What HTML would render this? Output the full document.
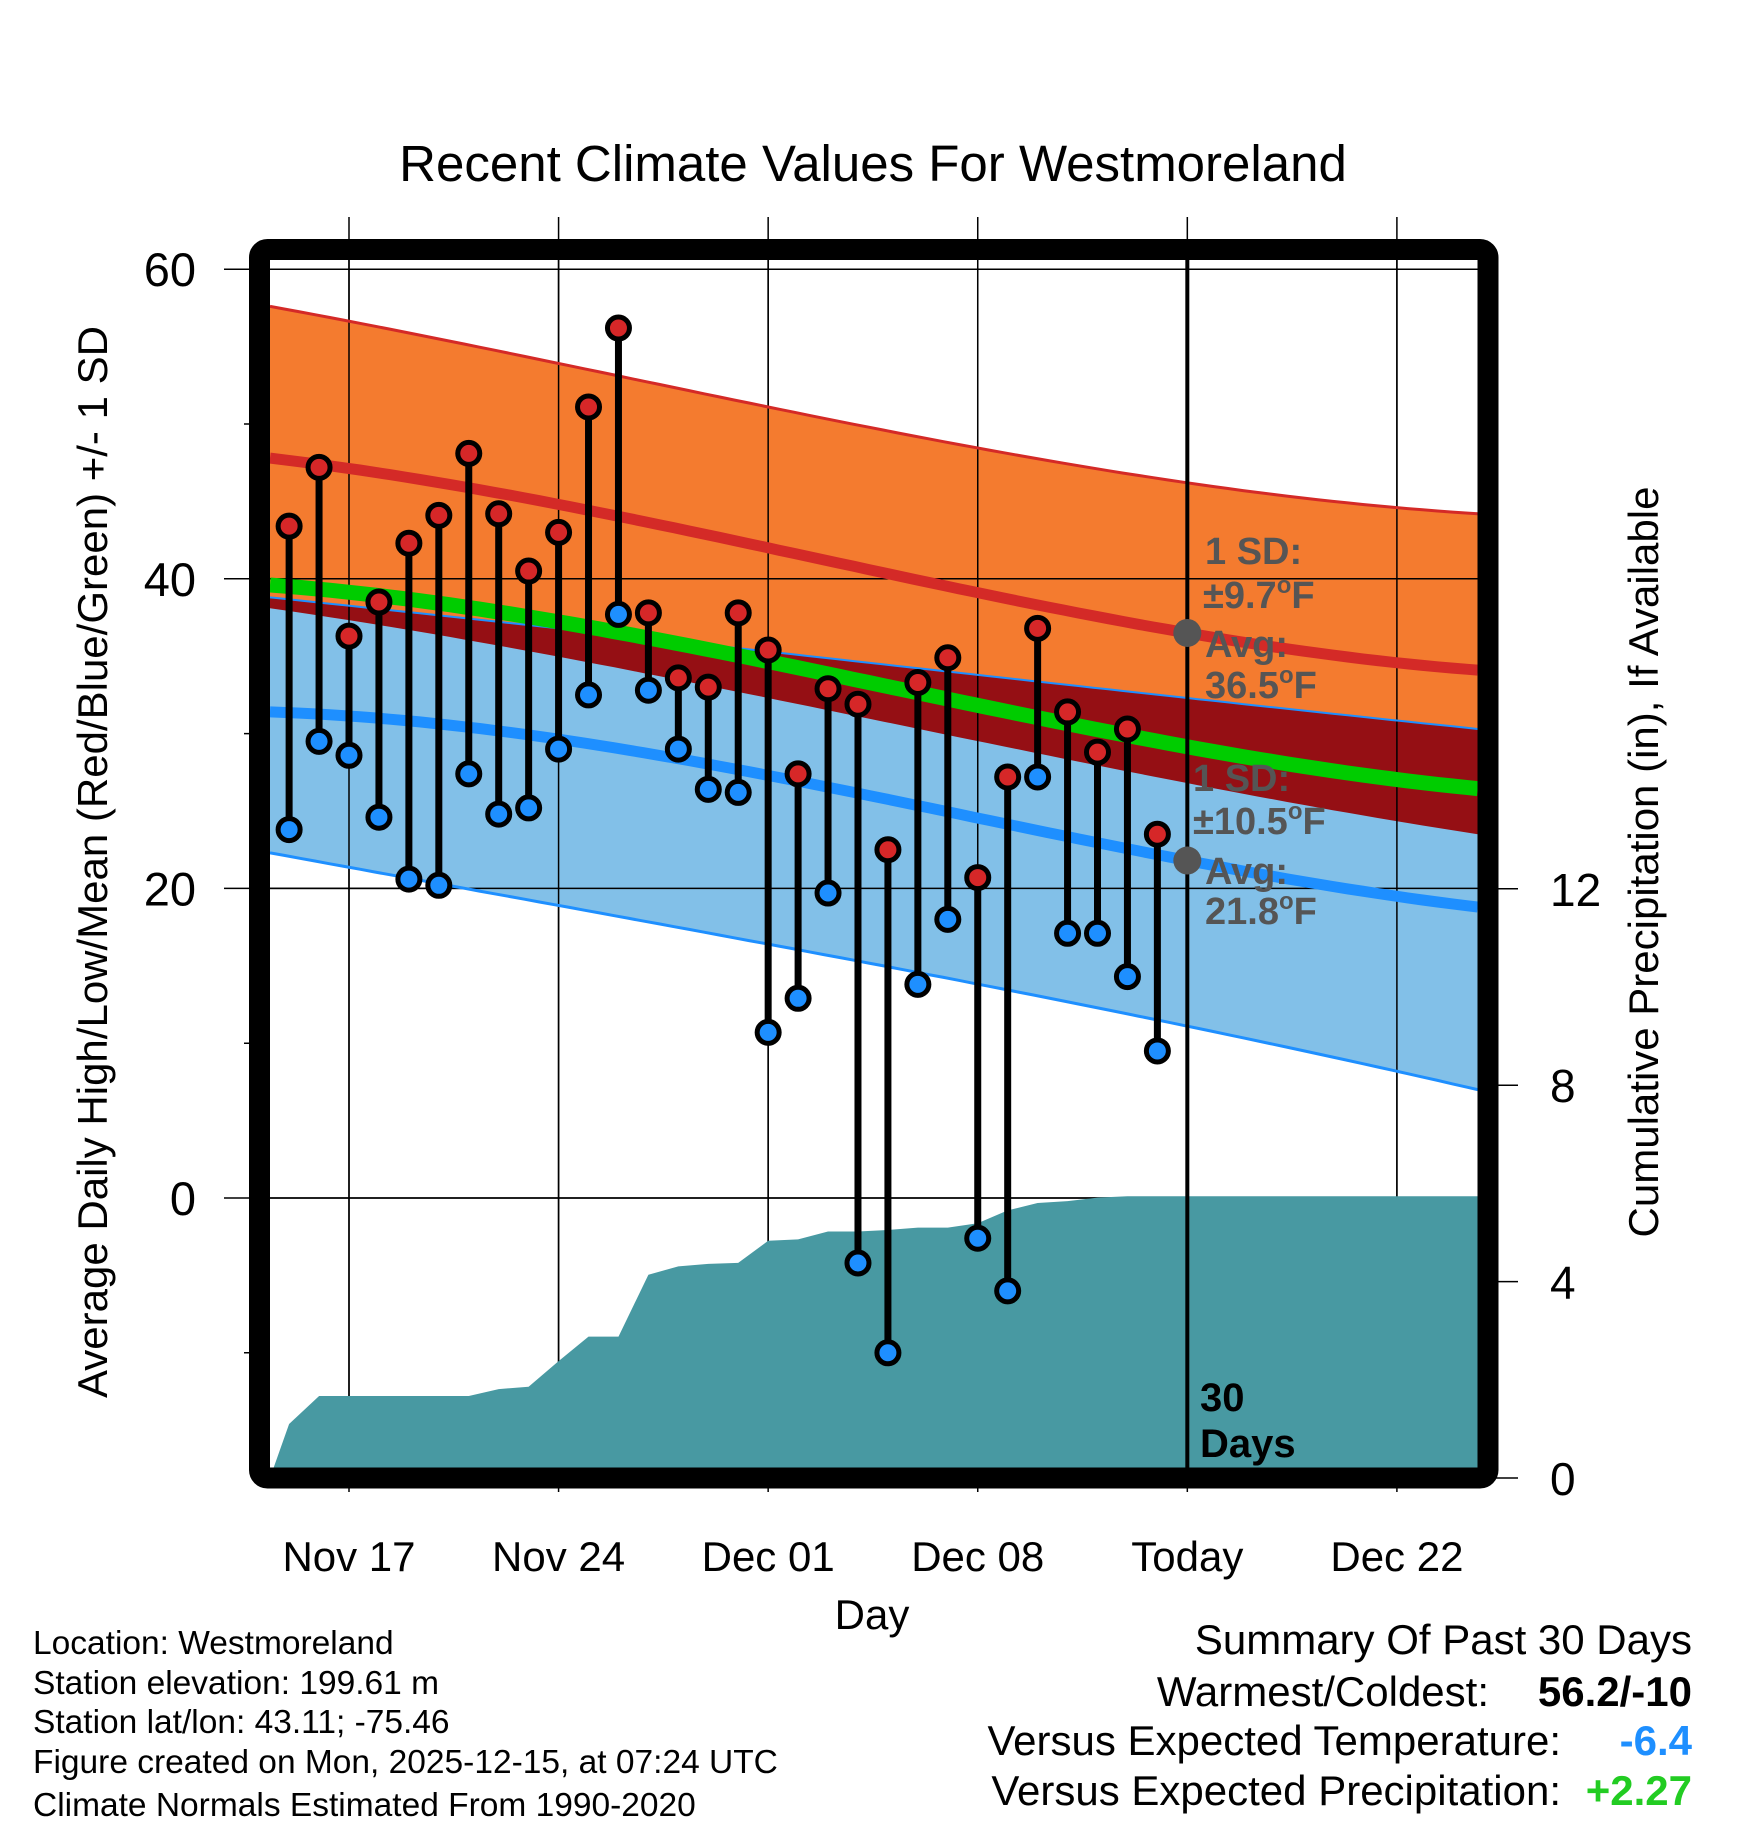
<!DOCTYPE html>
<html><head><meta charset="utf-8"><style>
html,body{margin:0;padding:0;background:#fff}
svg{display:block;font-family:"Liberation Sans",Arial,sans-serif}
</style></head><body>
<svg id="chart" width="1748" height="1828" viewBox="0 0 1748 1828" xmlns="http://www.w3.org/2000/svg">
<text x="873" y="181" font-size="51" text-anchor="middle">Recent Climate Values For Westmoreland</text>
<g id="plot"></g>
<text x="872" y="1629" font-size="42" text-anchor="middle">Day</text>
<text transform="translate(107,862) rotate(-90)" font-size="42" text-anchor="middle">Average Daily High/Low/Mean (Red/Blue/Green) +/- 1 SD</text>
<text transform="translate(1658,862) rotate(-90)" font-size="42" text-anchor="middle">Cumulative Precipitation (in), If Available</text>
<g font-size="33.5">
<text x="33" y="1654">Location: Westmoreland</text>
<text x="33" y="1694">Station elevation: 199.61 m</text>
<text x="33" y="1733">Station lat/lon: 43.11; -75.46</text>
<text x="33" y="1773">Figure created on Mon, 2025-12-15, at 07:24 UTC</text>
<text x="33" y="1816">Climate Normals Estimated From 1990-2020</text>
</g>
<g font-size="42">
<text x="1692" y="1654" text-anchor="end">Summary Of Past 30 Days</text>
<text x="1489" y="1706" text-anchor="end">Warmest/Coldest:</text>
<text x="1692" y="1706" text-anchor="end" font-weight="bold">56.2/-10</text>
<text x="1561" y="1755" text-anchor="end">Versus Expected Temperature:</text>
<text x="1692" y="1755" text-anchor="end" font-weight="bold" fill="#1e8fff">-6.4</text>
<text x="1561" y="1805" text-anchor="end">Versus Expected Precipitation:</text>
<text x="1692" y="1805" text-anchor="end" font-weight="bold" fill="#22cc22">+2.27</text>
</g>
</svg>
<script>
// Data: day index 0 = Nov 17
const obsDays = [-2,-1,0,1,2,3,4,5,6,7,8,9,10,11,12,13,14,15,16,17,18,19,20,21,22,23,24,25,26,27];
const highs = [43.4,47.2,36.3,38.5,42.3,44.1,48.1,44.2,40.5,43.0,51.1,56.2,37.8,33.6,33.0,37.8,35.4,27.4,32.9,31.9,22.5,33.3,34.9,20.7,27.2,36.8,31.4,28.8,30.3,23.5];
const lows = [23.8,29.5,28.6,24.6,20.6,20.2,27.4,24.8,25.2,29.0,32.5,37.7,32.8,29.0,26.4,26.2,10.7,12.9,19.7,-4.2,-10,13.8,18.0,-2.6,-6.0,27.2,17.1,17.1,14.3,9.5];
const precip = [1.1,1.67,1.67,1.67,1.67,1.67,1.67,1.81,1.86,2.38,2.88,2.88,4.14,4.31,4.36,4.38,4.83,4.86,5.02,5.02,5.05,5.1,5.1,5.19,5.45,5.6,5.64,5.71,5.74,5.74];
const normDays = [-2.64,14,28,37.7];
const highTop = [57.6,51.1,46.2,44.2];
const highAvg = [47.8,42.0,36.5,34.1];
const highBot = [38.1,32.3,26.8,23.5];
const lowTop = [38.8,35.3,32.3,30.3];
const lowAvg = [31.4,27.3,21.8,18.8];
const lowBot = [22.3,16.4,11.1,7.0];
const xTickDays = [0,7,14,21,28,35];
const xTickLabels = ["Nov 17","Nov 24","Dec 01","Dec 08","Today","Dec 22"];
const yTicks = [0,20,40,60];
const yMinor = [-10,10,30,50];
const y2Ticks = [0,4,8,12];

const L=270,R=1478,T=260,B=1468;
const X=d=>349+d*29.94;
const Y=v=>1198-(v)*15.48;
const Y2=p=>1478-p*49.1;
const NS='http://www.w3.org/2000/svg';
const plot=document.getElementById('plot');
function mk(tag,attrs,parent){const e=document.createElementNS(NS,tag);for(const k in attrs)e.setAttribute(k,attrs[k]);(parent||plot).appendChild(e);return e;}
// smooth (Lagrange) interpolation through the normal points
function interp(arr,d){let s=0;for(let i=0;i<normDays.length;i++){let w=1;for(let j=0;j<normDays.length;j++){if(j!==i)w*=(d-normDays[j])/(normDays[i]-normDays[j]);}s+=w*arr[i];}return s;}
const fine=[];for(let d=normDays[0];d<normDays[3];d+=0.5)fine.push(d);fine.push(normDays[3]);
function linePts(arr){return fine.map(d=>X(d).toFixed(1)+','+Y(interp(arr,d)).toFixed(1)).join(' ');}
function bandPts(a,b){return linePts(a)+' '+fine.slice().reverse().map(d=>X(d).toFixed(1)+','+Y(interp(b,d)).toFixed(1)).join(' ');}

const defs=mk('defs',{});
const cp=mk('clipPath',{id:'pc'},defs);mk('rect',{x:L,y:T,width:R-L,height:B-T},cp);
const cpb=mk('clipPath',{id:'blueclip'},defs);mk('polygon',{points:bandPts(lowTop,lowBot)},cpb);

for(let i=0;i<xTickDays.length;i++){
  const g=mk('line',{x1:X(xTickDays[i]),x2:X(xTickDays[i]),y1:217,y2:1492,stroke:'#000','stroke-width':1.5});
  
  
  const t=mk('text',{x:X(xTickDays[i]),y:1571,'font-size':42,'text-anchor':'middle'});
  
  
  t.textContent=xTickLabels[i];
}
for(const v of yTicks){
  const g=mk('line',{x1:224,x2:R,y1:Y(v),y2:Y(v),stroke:'#000','stroke-width':1.5});
  
  
  const t=mk('text',{x:196,y:Y(v)+17,'font-size':47,'text-anchor':'end'});
  
  
  t.textContent=v;
}
for(const v of yMinor){
  const g=mk('line',{x1:244,x2:262,y1:Y(v),y2:Y(v),stroke:'#000','stroke-width':1.5});
  
  
}
for(const p of y2Ticks){
  const g=mk('line',{x1:1490,x2:1518,y1:Y2(p),y2:Y2(p),stroke:'#000','stroke-width':1.5});
  
  
  const t=mk('text',{x:1550,y:Y2(p)+17,'font-size':46});
  
  
  t.textContent=p;
}

const pg=mk('g',{'clip-path':'url(#pc)'});


let e;
e=mk('polygon',{points:bandPts(highTop,highBot),fill:'#f47b2f'},pg);

e=mk('polygon',{points:bandPts(lowTop,lowBot),fill:'#82c0e8'},pg);

e=mk('polygon',{points:bandPts(highTop,highBot),fill:'#950f14','clip-path':'url(#blueclip)'},pg);

for(const d of xTickDays){e=mk('line',{x1:X(d),x2:X(d),y1:T,y2:B,stroke:'#000','stroke-width':1.5},pg);}
for(const v of yTicks){e=mk('line',{x1:L,x2:R,y1:Y(v),y2:Y(v),stroke:'#000','stroke-width':1.5},pg);}
e=mk('polyline',{points:linePts(highTop),fill:'none',stroke:'#d42a27','stroke-width':3},pg);

e=mk('polyline',{points:linePts(lowTop),fill:'none',stroke:'#1e8fff','stroke-width':2},pg);

e=mk('polyline',{points:linePts(lowBot),fill:'none',stroke:'#1e8fff','stroke-width':3},pg);

const meanArr=highAvg.map((h,i)=>(h+lowAvg[i])/2);
e=mk('polyline',{points:linePts(meanArr),fill:'none',stroke:'#00cc00','stroke-width':15},pg);

e=mk('polyline',{points:linePts(highAvg),fill:'none',stroke:'#d42a27','stroke-width':11},pg);

e=mk('polyline',{points:linePts(lowAvg),fill:'none',stroke:'#1e8fff','stroke-width':11},pg);

let pp=X(normDays[0]).toFixed(1)+','+Y2(0)+' ';
pp+=obsDays.map((d,i)=>X(d).toFixed(1)+','+Y2(precip[i]).toFixed(1)).join(' ');
pp+=' '+X(normDays[3]+1)+','+Y2(precip[precip.length-1]).toFixed(1)+' '+X(normDays[3]+1)+','+Y2(0);
e=mk('polygon',{points:pp,fill:'#4899a2'},pg);

for(let i=0;i<obsDays.length;i++){
  const x=X(obsDays[i]);
  const s=mk('line',{x1:x,x2:x,y1:Y(highs[i]),y2:Y(lows[i]),stroke:'#000','stroke-width':7},pg);
  
  
}
for(let i=0;i<obsDays.length;i++){
  const x=X(obsDays[i]);
  const h=mk('circle',{cx:x,cy:Y(highs[i]),r:11,fill:'#d62728',stroke:'#000','stroke-width':5},pg);
  
  
  const l=mk('circle',{cx:x,cy:Y(lows[i]),r:11,fill:'#1e8fff',stroke:'#000','stroke-width':5},pg);
  
  
}
e=mk('line',{x1:X(28),x2:X(28),y1:T-10,y2:B,stroke:'#000','stroke-width':4});

const ann=mk('g',{'font-size':38,'font-weight':'bold',fill:'#555'});


function at(x,y,txt,name){const t=mk('text',{x:x,y:y},ann);t.innerHTML=txt;}
e=mk('circle',{cx:X(28),cy:Y(highAvg[2]),r:14,fill:'#555'},ann);

e=mk('circle',{cx:X(28),cy:Y(lowAvg[2]),r:14,fill:'#555'},ann);

at(1205,564,'1 SD:','high-sd-label');
at(1203,608,'±9.7<tspan font-size="24" dy="-15">o</tspan><tspan dy="15">F</tspan>','high-sd-value');
at(1205,657,'Avg:','high-avg-label');
at(1205,698,'36.5<tspan font-size="24" dy="-15">o</tspan><tspan dy="15">F</tspan>','high-avg-value');
at(1193,791,'1 SD:','low-sd-label');
at(1193,834,'±10.5<tspan font-size="24" dy="-15">o</tspan><tspan dy="15">F</tspan>','low-sd-value');
at(1205,884,'Avg:','low-avg-label');
at(1205,924,'21.8<tspan font-size="24" dy="-15">o</tspan><tspan dy="15">F</tspan>','low-avg-value');
const d30=mk('g',{'font-size':40,'font-weight':'bold',fill:'#000'});


e=mk('text',{x:1200,y:1411},d30);e.textContent='30';
e=mk('text',{x:1200,y:1457},d30);e.textContent='Days';
e=mk('rect',{x:259.5,y:249.5,width:1228.5,height:1228.5,fill:'none',stroke:'#000','stroke-width':21,rx:8});

</script>
</body></html>
